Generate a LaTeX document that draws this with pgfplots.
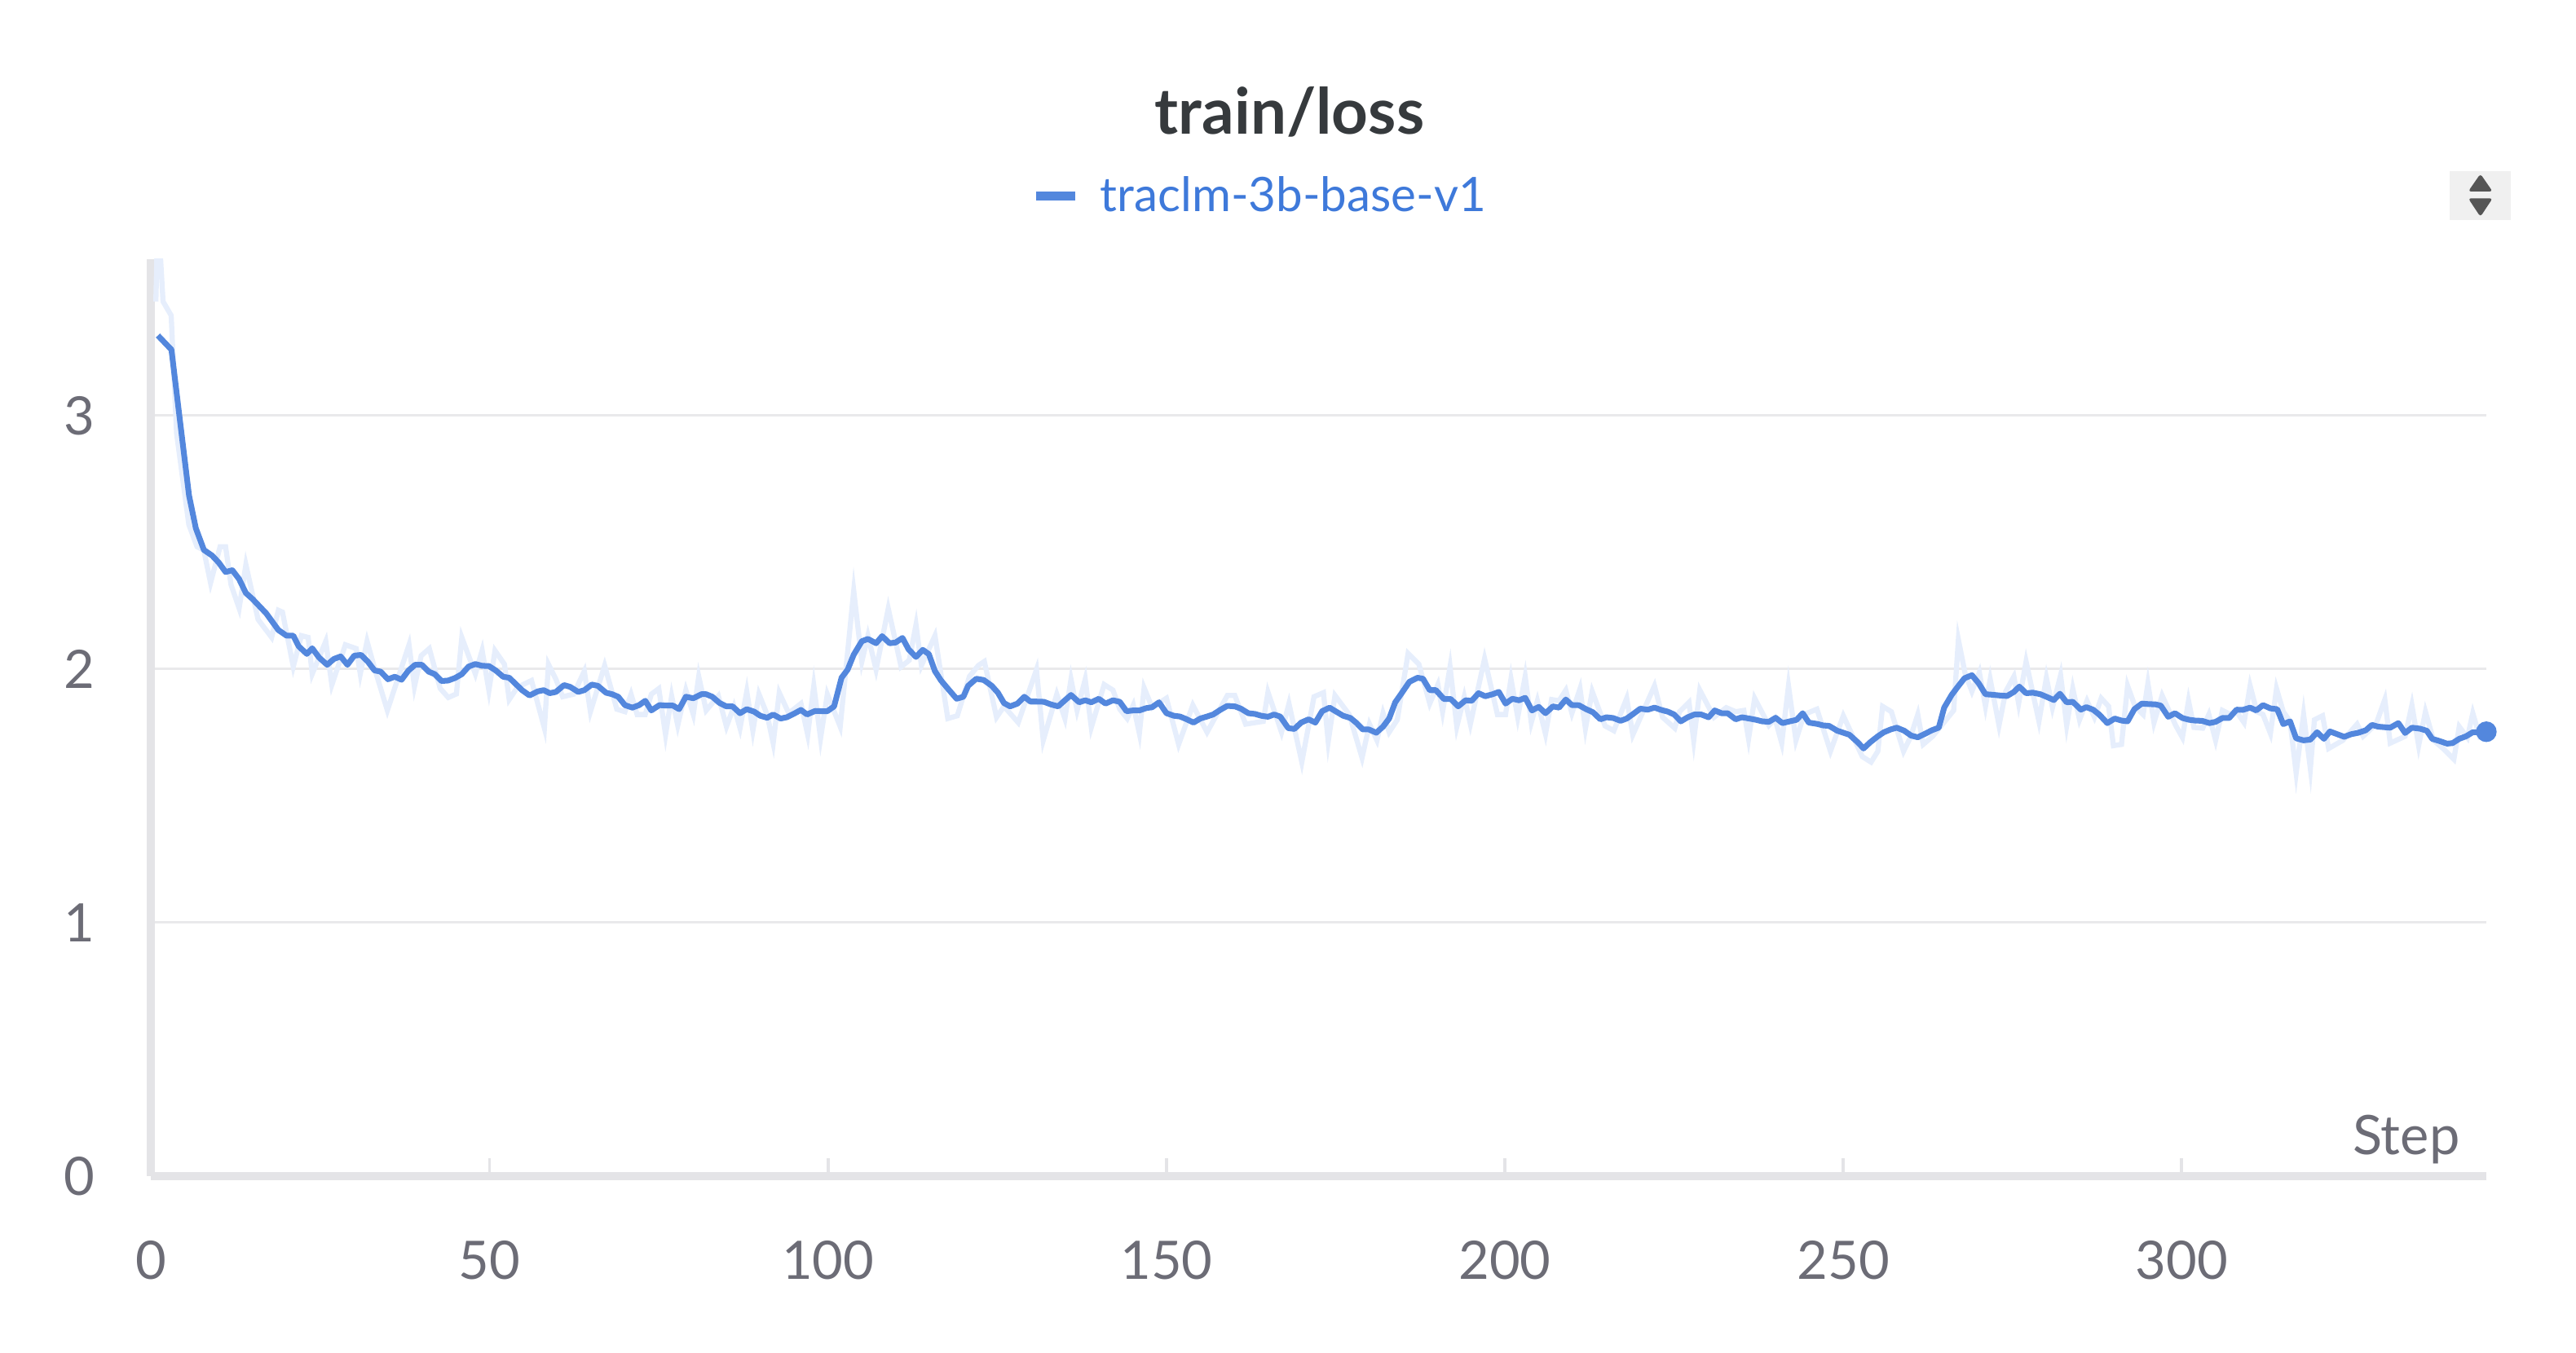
\documentclass[border=0pt]{standalone}
\usepackage{pgfplots}
\pgfplotsset{compat=1.18}
\usepackage{fontspec}
\setmainfont{Lato}
\definecolor{lineblue}{RGB}{83,135,221}
\definecolor{rawblue}{RGB}{230,238,252}
\definecolor{legblue}{RGB}{62,121,218}
\definecolor{titlegray}{RGB}{54,58,61}
\definecolor{tickgray}{RGB}{108,108,118}
\definecolor{axisgray}{RGB}{228,228,231}
\definecolor{gridgray}{RGB}{233,233,235}
\definecolor{iconbg}{RGB}{240,240,240}
\definecolor{icondark}{RGB}{85,85,85}
\begin{document}
\begin{tikzpicture}[x=1cm,y=1cm]
\path[use as bounding box] (0,0) rectangle (31.6,16.6);
\begin{axis}[
  at={(1.854cm,2.17cm)}, anchor=south west,
  width=28.646cm, height=11.25cm, scale only axis,
  xmin=0, xmax=345, ymin=0, ymax=3.617,
  axis x line*=bottom, axis y line*=left,
  axis line style={draw=axisgray, line width=2.8pt},
  xtick={0,50,100,150,200,250,300}, ytick={0,1,2,3},
  ymajorgrids, grid style={draw=gridgray, line width=0.85pt},
  tick align=inside, major tick length=0.22cm,
  xtick style={draw=axisgray, line width=1.1pt},
  ytick style={draw=none},
  /pgf/number format/assume math mode=true,
  xticklabel style={font=\fontsize{18.5}{20}\selectfont, text=tickgray, anchor=center, yshift=-1.03cm},
  yticklabel style={font=\fontsize{18.5}{20}\selectfont, text=tickgray, anchor=center, xshift=-0.88cm},
  legend style={at={(0.377,1.069)}, anchor=west, draw=none, fill=none, inner sep=0pt,
    font=\fontsize{16.6}{18}\selectfont, text=legblue,
    /tikz/every odd column/.append style={column sep=0.18cm}},
  legend image code/.code={\draw[line width=3pt] (0cm,0cm) -- (0.48cm,0cm);},
]
\addplot[rawblue, line width=1.8pt, forget plot] coordinates {
(0.7,3.45)(1.0,3.80)(1.76,3.45)(2.96,3.395)(3.76,2.93)(5.57,2.57)(6.78,2.483)(7.78,2.469)(8.78,2.34)
(10.19,2.483)(11,2.483)(11.8,2.333)(13,2.24)(14,2.412)(15.8,2.196)(17.8,2.125)(18.8,2.232)(19.4,2.225)
(21,2.01)(22.2,2.132)(23.2,2.125)(23.8,1.981)(25.8,2.11)(26.7,1.938)(28.7,2.096)(30.3,2.081)(30.9,1.981)
(31.9,2.11)(33.1,1.995)(34.9,1.837)(38.1,2.096)(38.9,1.931)(39.9,2.053)(41.1,2.081)(42.7,1.924)(43.9,1.888)
(45.1,1.902)(45.9,2.125)(47.9,1.981)(48.9,2.074)(49.9,1.916)(50.8,2.073)(52.2,2.019)(52.9,1.88)(54.1,1.928)
(56.2,1.955)(58.1,1.767)(58.7,2.019)(59.8,1.96)(60.8,1.891)(62.4,1.901)(64,1.992)(64.9,1.832)(67,2.014)
(68.8,1.842)(70,1.832)(70.9,1.901)(71.8,1.821)(73,1.821)(73.9,1.901)(75.0,1.923)(76,1.741)(76.9,1.894)
(77.8,1.778)(79,1.917)(80.1,1.821)(80.9,1.971)(82,1.837)(83.8,1.894)(85,1.773)(86.1,1.853)(87,1.767)
(88,1.912)(88.9,1.757)(89.8,1.901)(91,1.821)(91.9,1.708)(92.8,1.907)(94.2,1.826)(96,1.864)(97,1.741)
(97.9,1.934)(98.9,1.727)(99.9,1.901)(101.8,1.773)(103.8,2.309)(105,2.03)(105.9,2.132)(107.1,1.998)
(108.9,2.239)(110.8,2.009)(112,2.035)(113,2.175)(113.8,2.014)(115.8,2.132)(117.7,1.805)(119.1,1.816)
(120.9,1.971)(122.2,2.014)(123.1,2.03)(124.9,1.81)(126,1.853)(128.1,1.789)(130.8,1.998)(131.8,1.719)
(133.8,1.901)(135,1.805)(135.9,1.96)(136.8,1.837)(138,1.96)(138.9,1.77)(140.8,1.939)(142.1,1.917)
(143.1,1.842)(144.2,1.805)(145.1,1.858)(146,1.746)(146.7,1.926)(147.9,1.848)(150,1.885)(151.8,1.703)
(153.9,1.858)(156,1.751)(159,1.896)(160.1,1.896)(161.7,1.783)(164.3,1.794)(165,1.909)(167,1.751)
(168.1,1.864)(170,1.633)(171.8,1.891)(173.2,1.907)(173.9,1.714)(174.9,1.896)(177,1.821)(178.9,1.65)
(180,1.783)(181.1,1.719)(182,1.826)(182.9,1.751)(184.1,1.8)(185.7,2.062)(187.3,2.019)(188.9,1.864)
(190.1,1.939)(190.8,1.832)(191.9,2.009)(192.9,1.773)(194,1.891)(194.9,1.783)(197,2.041)(198.9,1.821)
(200.1,1.821)(200.9,1.962)(201.9,1.81)(203,1.971)(203.9,1.789)(204.8,1.875)(206,1.744)(206.9,1.88)
(208,1.875)(209,1.917)(209.9,1.826)(211.1,1.923)(211.9,1.765)(212.9,1.912)(214.8,1.776)(216.1,1.757)
(218,1.885)(218.9,1.741)(222.1,1.934)(223.3,1.81)(225.1,1.767)(225.8,1.832)(227.2,1.869)(227.9,1.719)
(228.8,1.917)(230.9,1.81)(232.7,1.848)(234.1,1.832)(235.3,1.837)(236,1.725)(236.9,1.885)(239,1.778)
(239.9,1.805)(240.9,1.708)(241.9,1.934)(243,1.719)(244.2,1.821)(246.1,1.842)(248.1,1.676)(250,1.816)
(252.8,1.655)(254.1,1.633)(255.1,1.676)(255.8,1.853)(257.1,1.832)(258.9,1.676)(259.9,1.73)(261,1.821)
(261.8,1.703)(263.2,1.735)(265,1.794)(266.3,1.837)(267,2.116)(268,1.982)(269,1.912)(270.1,1.987)
(271,1.853)(271.7,1.96)(273,1.778)(274,1.912)(275.2,1.971)(275.9,1.864)(277,2.03)(278.9,1.794)
(280,1.966)(280.9,1.848)(282.1,1.976)(283,1.778)(283.9,1.923)(284.9,1.8)(286,1.875)(287.1,1.81)
(288.1,1.885)(289.2,1.853)(289.9,1.698)(291.1,1.703)(292,1.934)(293.1,1.853)(294.3,1.821)(295,1.944)
(295.9,1.789)(297.1,1.896)(299.1,1.778)(300.1,1.73)(301,1.875)(301.8,1.77)(303.1,1.767)(304,1.821)
(305,1.719)(306,1.837)(307.2,1.821)(308.1,1.832)(309.2,1.789)(310.1,1.934)(311.1,1.832)(312,1.821)
(313.1,1.746)(314,1.923)(315,1.832)(316,1.794)(316.9,1.59)(318,1.821)(319,1.607)(319.6,1.8)
(320.8,1.816)(321.7,1.687)(323.8,1.719)(325.9,1.783)(326.8,1.735)(328.7,1.783)(330,1.88)(330.8,1.708)
(333,1.735)(334,1.858)(335,1.698)(336,1.832)(337.2,1.719)(338.6,1.687)(340.2,1.644)(341,1.773)
(342.2,1.73)(343,1.826)(344,1.735)(345,1.751)
};
\addplot[lineblue, line width=2pt, line join=round] coordinates {
(1,3.316)(3,3.26)(4.17,3.00)(5.6,2.685)(6.6,2.556)(7.8,2.47)(9,2.448)(10,2.42)(11,2.383)(12,2.39)
(13,2.355)(14,2.30)(15,2.276)(17,2.22)(18.8,2.154)(20,2.132)(21,2.132)(21.8,2.09)(23,2.06)(23.8,2.082)
(24.8,2.046)(26,2.017)(27,2.04)(28,2.05)(29,2.017)(30,2.053)(31,2.056)(32,2.03)(33,1.995)(33.9,1.99)
(35,1.96)(36,1.97)(37,1.958)(38,1.994)(39,2.017)(40,2.017)(41,1.99)(41.9,1.98)(42.9,1.953)(43.9,1.955)
(44.9,1.965)(45.9,1.98)(46.9,2.01)(47.9,2.02)(48.9,2.013)(49.9,2.012)(50.9,1.995)(52,1.97)
(52.9,1.966)(54.8,1.917)(55.9,1.896)(57.1,1.912)(58,1.917)(58.9,1.905)(59.8,1.91)(61,1.937)(61.9,1.93)
(63.1,1.91)(64,1.917)(65.1,1.939)(66,1.934)(67.2,1.907)(68.1,1.901)(69,1.891)(70,1.858)(71.1,1.848)
(72.1,1.858)(73,1.875)(73.9,1.837)(75.1,1.858)(76.2,1.856)(77.1,1.856)(78,1.842)(79,1.891)(80.1,1.885)
(81.3,1.901)(82,1.901)(82.9,1.891)(84,1.866)(85,1.853)(85.9,1.853)(87,1.826)(88,1.842)(89.1,1.832)
(90,1.816)(91,1.808)(91.9,1.821)(93,1.805)(93.9,1.81)(94.9,1.823)(96,1.839)(96.9,1.821)(98.1,1.835)
(99,1.834)(99.9,1.834)(100.9,1.853)(102,1.966)(102.9,1.998)(103.8,2.057)(105,2.11)(105.9,2.119)
(107.1,2.102)(108,2.13)(109.1,2.102)(110,2.105)(111,2.123)(111.9,2.078)(113,2.048)(114,2.076)
(114.9,2.059)(115.8,1.992)(116.7,1.955)(117.9,1.917)(119,1.883)(120,1.891)(120.7,1.934)(121.9,1.962)
(123,1.957)(124.2,1.934)(125.1,1.907)(126,1.866)(126.9,1.853)(128,1.864)(129,1.891)(129.9,1.872)
(130.8,1.872)(131.9,1.871)(132.9,1.861)(134,1.853)(135,1.877)(135.9,1.898)(137.1,1.869)(138,1.877)
(138.9,1.869)(140,1.883)(141,1.864)(142.1,1.877)(143.1,1.871)(144.1,1.834)(145.1,1.837)(146,1.837)
(147,1.846)(147.9,1.85)(148.9,1.869)(150,1.826)(151.1,1.816)(152,1.813)(153,1.802)(154,1.789)
(155,1.805)(156,1.813)(156.9,1.821)(158,1.84)(159,1.855)(160.1,1.853)(161,1.844)(162.1,1.826)
(163.1,1.823)(164,1.816)(165,1.812)(165.9,1.821)(166.8,1.813)(168,1.767)(168.9,1.764)(169.9,1.789)
(171,1.802)(172,1.789)(173,1.834)(174.1,1.848)(175.1,1.832)(176.1,1.816)(177.2,1.807)(178.1,1.787)
(179,1.762)(179.9,1.762)(181,1.749)(182,1.773)(182.9,1.805)(183.8,1.869)(184.8,1.907)(185.9,1.95)
(187.1,1.966)(187.9,1.962)(188.9,1.917)(189.8,1.917)(191,1.882)(192,1.882)(193.1,1.853)(194.2,1.877)
(195.1,1.875)(196.1,1.905)(197.1,1.893)(198.2,1.901)(199.1,1.91)(200.1,1.864)(201.1,1.883)(202.1,1.877)
(203,1.887)(204,1.837)(205,1.851)(206,1.826)(207.1,1.853)(208,1.848)(209,1.88)(209.9,1.858)
(210.9,1.858)(212,1.842)(213,1.83)(214.1,1.802)(215,1.81)(216,1.807)(217.1,1.796)(218,1.805)
(219,1.824)(220,1.844)(221.1,1.84)(222.1,1.848)(223.1,1.839)(224.1,1.832)(225,1.821)(226,1.794)
(227,1.81)(228,1.821)(229,1.821)(230.1,1.81)(231,1.837)(232,1.826)(232.9,1.826)(234.1,1.802)
(235,1.81)(236.1,1.805)(237.1,1.8)(238,1.794)(239,1.792)(240,1.808)(241,1.787)(242.1,1.794)
(243.1,1.8)(244,1.826)(244.9,1.789)(246.1,1.784)(247,1.778)(247.9,1.776)(249.1,1.757)(250,1.749)
(250.9,1.741)(252.1,1.712)(253,1.687)(254,1.712)(255.1,1.735)(256,1.751)(257,1.762)(257.9,1.769)
(259,1.757)(260,1.738)(261,1.731)(262.3,1.748)(263.1,1.759)(264.1,1.769)(264.9,1.848)(266,1.898)
(266.9,1.93)(267.9,1.964)(269,1.976)(270,1.944)(271,1.901)(272,1.899)(273.1,1.896)(274.2,1.894)
(275.2,1.91)(276,1.931)(277,1.905)(278,1.907)(279.1,1.901)(280,1.891)(281.1,1.878)(282,1.903)
(283,1.869)(283.9,1.871)(285.1,1.84)(285.9,1.85)(286.9,1.84)(287.8,1.821)(289,1.787)(290.1,1.805)
(291.1,1.797)(292,1.794)(293,1.842)(294.1,1.864)(295.1,1.862)(296.1,1.861)(296.9,1.856)(298,1.812)
(299,1.826)(300.1,1.807)(301.1,1.8)(302,1.797)(303,1.796)(304.1,1.787)(305,1.792)(306,1.807)
(307,1.807)(308.1,1.84)(309,1.839)(310.1,1.848)(311,1.837)(312,1.858)(313.1,1.845)(314.1,1.842)
(315,1.783)(316,1.794)(316.9,1.727)(318,1.719)(319,1.722)(320,1.751)(321,1.725)(321.9,1.754)
(323,1.743)(324,1.733)(325,1.743)(326.1,1.749)(327.2,1.759)(328.1,1.78)(329,1.773)(330.8,1.769)
(332,1.787)(333,1.748)(334,1.769)(335.2,1.765)(336.2,1.757)(337,1.725)(338,1.717)(339.2,1.706)
(340,1.708)(341,1.725)(342,1.735)(343,1.751)(343.8,1.751)(345,1.753)
};
\addlegendentry{traclm-3b-base-v1}
\addplot[only marks, mark=*, mark size=3.4pt, color=lineblue, forget plot, clip=false] coordinates {(345,1.753)};
\end{axis}
\node[anchor=base, font=\bfseries\fontsize{22.2}{25}\selectfont, text=titlegray] at (15.82,14.95) {train/loss};
\node[anchor=base east, font=\fontsize{19}{21}\selectfont, text=tickgray, inner sep=0pt] at (30.18,2.43) {Step};
\fill[iconbg] (30.05,13.90) rectangle (30.80,14.50);
\fill[icondark, rounded corners=1pt] (30.277,14.25) -- (30.577,14.25) -- (30.427,14.467) -- cycle;
\fill[icondark, rounded corners=1pt] (30.277,14.167) -- (30.577,14.167) -- (30.427,13.94) -- cycle;
\end{tikzpicture}
\end{document}
